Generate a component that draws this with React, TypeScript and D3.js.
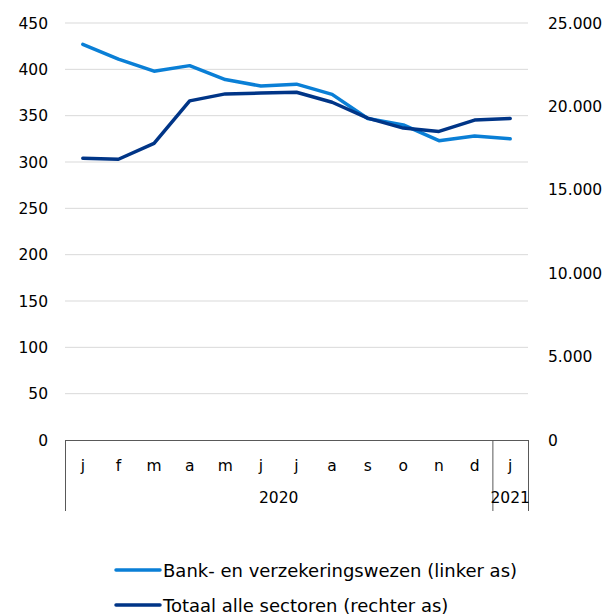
import React, { useEffect, useRef } from 'react';
import * as d3 from 'd3';

const months = ['j', 'f', 'm', 'a', 'm', 'j', 'j', 'a', 's', 'o', 'n', 'd', 'j'];
const years = [
  { label: '2020', from: 0, to: 12 },
  { label: '2021', from: 12, to: 13 },
];
const bankValues = [427, 411, 398, 404, 389, 382, 384, 373, 347, 340, 323, 328, 325];
const totalValues = [16890, 16830, 17780, 20330, 20750, 20800, 20850, 20250, 19300, 18700, 18500, 19180, 19280];
const leftTicks = [0, 50, 100, 150, 200, 250, 300, 350, 400, 450];
const rightTicks = [0, 5000, 10000, 15000, 20000, 25000];
const legendLabels = ['Bank- en verzekeringswezen (linker as)', 'Totaal alle sectoren (rechter as)'];

const App = () => {
  const ref = useRef<SVGSVGElement>(null);

  useEffect(() => {
    const svg = d3.select(ref.current);
    svg.selectAll('*').remove();

    const left = 65, right = 528, top = 23, bottom = 440;
    const font = 'DejaVu Sans, Verdana, sans-serif';
    const idx = months.map((_, i) => i);

    const x = d3.scaleBand<number>().domain(idx).range([left, right]);
    const yL = d3.scaleLinear().domain([0, 450]).range([bottom, top]);
    const yR = d3.scaleLinear().domain([0, 25000]).range([bottom, top]);

    // gridlines
    svg.append('g')
      .selectAll('line')
      .data(leftTicks.filter(d => d > 0))
      .enter()
      .append('line')
      .attr('x1', left).attr('x2', right)
      .attr('y1', d => yL(d)).attr('y2', d => yL(d))
      .attr('stroke', '#d9d9d9').attr('stroke-width', 1);

    // left axis labels
    svg.append('g')
      .selectAll('text')
      .data(leftTicks)
      .enter()
      .append('text')
      .attr('x', 48)
      .attr('y', d => yL(d) + 5.5)
      .attr('text-anchor', 'end')
      .attr('font-family', font)
      .attr('font-size', '15.5px')
      .attr('fill', '#000')
      .text(d => d);

    // right axis labels
    const fmt = (d: number) => d3.format(',')(d).replace(/,/g, '.');
    svg.append('g')
      .selectAll('text')
      .data(rightTicks)
      .enter()
      .append('text')
      .attr('x', 548)
      .attr('y', d => yR(d) + 5.5)
      .attr('text-anchor', 'start')
      .attr('font-family', font)
      .attr('font-size', '15.5px')
      .attr('fill', '#000')
      .text(d => fmt(d));

    // x axis
    const axis = svg.append('g').attr('stroke', '#595959').attr('stroke-width', 1);
    axis.append('line')
      .attr('x1', left).attr('x2', right)
      .attr('y1', bottom + 0.5).attr('y2', bottom + 0.5);
    const bounds = [0, ...years.map(y => y.to)];
    bounds.forEach(b => {
      const bx = b < months.length ? x(b)! : right;
      axis.append('line')
        .attr('x1', bx + 0.5).attr('x2', bx + 0.5)
        .attr('y1', bottom).attr('y2', 511);
    });

    svg.append('g')
      .selectAll('text')
      .data(idx)
      .enter()
      .append('text')
      .attr('x', d => x(d)! + x.bandwidth() / 2)
      .attr('y', 471)
      .attr('text-anchor', 'middle')
      .attr('font-family', font)
      .attr('font-size', '15.5px')
      .text(d => months[d]);

    svg.append('g')
      .selectAll('text')
      .data(years)
      .enter()
      .append('text')
      .attr('x', d => {
        const a = x(d.from)!;
        const b = d.to < months.length ? x(d.to)! : right;
        return (a + b) / 2;
      })
      .attr('y', 503)
      .attr('text-anchor', 'middle')
      .attr('font-family', font)
      .attr('font-size', '15.5px')
      .text(d => d.label);

    // lines
    const cx = (i: number) => x(i)! + x.bandwidth() / 2;
    const lineL = d3.line<number>().x((_, i) => cx(i)).y(d => yL(d));
    const lineR = d3.line<number>().x((_, i) => cx(i)).y(d => yR(d));

    svg.append('path')
      .attr('d', lineL(bankValues)!)
      .attr('fill', 'none')
      .attr('stroke', '#0a7fd6')
      .attr('stroke-width', 3.5)
      .attr('stroke-linejoin', 'round')
      .attr('stroke-linecap', 'round');

    svg.append('path')
      .attr('d', lineR(totalValues)!)
      .attr('fill', 'none')
      .attr('stroke', '#003587')
      .attr('stroke-width', 3.5)
      .attr('stroke-linejoin', 'round')
      .attr('stroke-linecap', 'round');

    // legend
    const colors = ['#0a7fd6', '#003587'];
    const leg = svg.append('g');
    legendLabels.forEach((label, i) => {
      const ly = 570 + i * 35;
      leg.append('line')
        .attr('x1', 116).attr('x2', 160)
        .attr('y1', ly).attr('y2', ly)
        .attr('stroke', colors[i])
        .attr('stroke-width', 3.5)
        .attr('stroke-linecap', 'round');
      leg.append('text')
        .attr('x', 163)
        .attr('y', ly + 6.5)
        .attr('font-family', font)
        .attr('font-size', '18px')
        .text(label);
    });
  }, []);

  return (
    <svg
      ref={ref}
      width={611}
      height={614}
      style={{ position: 'absolute', left: 0, top: 0, background: '#fff' }}
    />
  );
};

export default App;
